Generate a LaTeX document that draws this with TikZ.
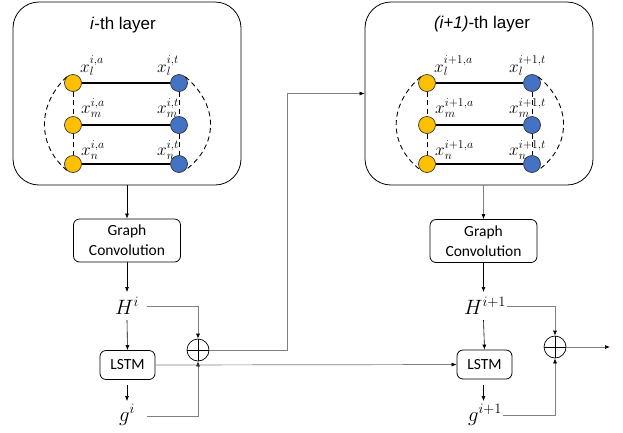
\documentclass[tikz,border=0pt]{standalone}
\usepackage{fontspec}
\newfontfamily\calib{Carlito}
\newfontfamily\arialf{Liberation Sans}
\usetikzlibrary{arrows.meta}
\definecolor{nyellow}{HTML}{FFC000}
\definecolor{nblue}{HTML}{4472C4}
\definecolor{lgray}{HTML}{808080}
\tikzset{
  layerbox/.style={draw, line width=0.8pt, rounded corners=26pt, minimum width=228pt, minimum height=183pt, inner sep=0pt},
  ynode/.style={circle, draw=black!80, line width=0.7pt, fill=nyellow, minimum size=17pt, inner sep=0pt},
  bnode/.style={circle, draw=black!80, line width=0.7pt, fill=nblue, minimum size=17pt, inner sep=0pt},
  lab/.style={anchor=base west, inner sep=0pt, font=\fontsize{18}{18}\selectfont},
  title/.style={font=\arialf\fontsize{17}{20}\selectfont},
  dline/.style={dashed, dash pattern=on 5pt off 3.5pt, line width=0.9pt},
  hline/.style={line width=1.1pt},
  opbox/.style={draw, line width=0.8pt, rounded corners=6pt, align=center, font=\calib\fontsize{15.5}{20}\selectfont, inner sep=0pt},
  mtxt/.style={font=\fontsize{20}{20}\selectfont, inner sep=1pt},
  oplus/.style={circle, draw, line width=0.7pt, minimum size=22pt, inner sep=0pt,
    path picture={\draw[line width=0.7pt] (path picture bounding box.north) -- (path picture bounding box.south)
      (path picture bounding box.west) -- (path picture bounding box.east);}},
  arr/.style={line width=0.6pt, -{Latex[length=5pt,width=4pt]}},
  garr/.style={draw=lgray, line width=0.7pt, -{Latex[length=5pt,width=4pt,color=black]}},
  gline/.style={draw=lgray, line width=0.7pt}
}
\begin{document}
\begin{tikzpicture}[x=1pt, y=-1pt]
\useasboundingbox (0,0) rectangle (623,432);

% ---------- left layer ----------
\node[layerbox] (Lbox) at (127,93.5) {};
\node[title] (Ltitle) at (123,25) {\textit{i}-th layer};
\node[ynode] (La1) at (73,83) {};
\node[ynode] (La2) at (73,125) {};
\node[ynode] (La3) at (73,164) {};
\node[bnode] (Lt1) at (179,83) {};
\node[bnode] (Lt2) at (179,125) {};
\node[bnode] (Lt3) at (179,164) {};
\node[lab] (Lla1) at (80,72) {$x_l^{i,a}$};
\node[lab] (Lla2) at (81,113) {$x_m^{i,a}$};
\node[lab] (Lla3) at (81,155) {$x_n^{i,a}$};
\node[lab] (Llt1) at (157,72) {$x_l^{i,t}$};
\node[lab] (Llt2) at (157,113) {$x_m^{i,t}$};
\node[lab] (Llt3) at (157,155) {$x_n^{i,t}$};
\draw[hline] (La1) -- (Lt1);
\draw[hline] (La2) -- (Lt2);
\draw[hline] (La3) -- (Lt3);
\draw[dline] (La1) -- (La2);
\draw[dline] (La2) -- (La3);
\draw[dline] (Lt1) -- (Lt2);
\draw[dline] (Lt2) -- (Lt3);
\draw[dline] (La1.north west) .. controls (37,105) and (37,145) .. (La3.south west);
\draw[dline] (Lt1.north east) .. controls (219,105) and (219,145) .. (Lt3.south east);

% ---------- right layer ----------
\node[layerbox] (Rbox) at (479,93.5) {};
\node[title] (Rtitle) at (482,24) {\textit{(i+1)}-th layer};
\node[ynode] (Ra1) at (427,83) {};
\node[ynode] (Ra2) at (427,125) {};
\node[ynode] (Ra3) at (427,164) {};
\node[bnode] (Rt1) at (532,83) {};
\node[bnode] (Rt2) at (532,125) {};
\node[bnode] (Rt3) at (532,164) {};
\node[lab] (Rla1) at (434,72) {$x_l^{i+1,a}$};
\node[lab] (Rla2) at (435,113) {$x_m^{i+1,a}$};
\node[lab] (Rla3) at (435,155) {$x_n^{i+1,a}$};
\node[lab] (Rlt1) at (509,72) {$x_l^{i+1,t}$};
\node[lab] (Rlt2) at (509,113) {$x_m^{i+1,t}$};
\node[lab] (Rlt3) at (509,155) {$x_n^{i+1,t}$};
\draw[hline] (Ra1) -- (Rt1);
\draw[hline] (Ra2) -- (Rt2);
\draw[hline] (Ra3) -- (Rt3);
\draw[dline] (Ra1) -- (Ra2);
\draw[dline] (Ra2) -- (Ra3);
\draw[dline] (Rt1) -- (Rt2);
\draw[dline] (Rt2) -- (Rt3);
\draw[dline] (Ra1.north west) .. controls (388,105) and (388,145) .. (Ra3.south west);
\draw[dline] (Rt1.north east) .. controls (572,105) and (572,145) .. (Rt3.south east);

% ---------- left pipeline ----------
\node[opbox, minimum width=107pt, minimum height=43pt] (Lgc) at (127,240.5) {Graph\\Convolution};
\node[mtxt] (LH) at (127,306) {$H^i$};
\node[opbox, minimum width=55pt, minimum height=29pt] (Llstm) at (127.5,365) {LSTM};
\node[mtxt] (Lg) at (127,415) {$g^i$};
\node[oplus] (Lop) at (198,350) {};
\draw[arr] (Lbox.south -| Lgc.north) -- (Lgc.north);
\draw[arr] (Lgc.south) -- (127,292);
\draw[arr] (127,320) -- (Llstm.north);
\draw[arr] (127,385) -- (127,401);
\draw[garr] (147,306) -| (Lop.north);
\draw[garr] (147,416) -| (Lop.south);
\draw[gline, -{Latex[length=5pt,width=4pt,color=black]}] (Lop.east) -- (287,350) |- (Rbox.west);

% ---------- right pipeline ----------
\node[opbox, minimum width=107pt, minimum height=43pt] (Rgc) at (483.5,241) {Graph\\Convolution};
\node[mtxt] (RH) at (485,306) {$H^{i+1}$};
\node[opbox, minimum width=55pt, minimum height=29pt] (Rlstm) at (484.5,364.5) {LSTM};
\node[mtxt] (Rg) at (485,415) {$g^{i+1}$};
\node[oplus] (Rop) at (555,347) {};
\coordinate (Rout) at (610,347);
\draw[garr] (Rbox.south -| Rgc.north) -- (Rgc.north);
\draw[arr] (Rgc.south) -- (483.5,292);
\draw[arr] (483.5,320) -- (Rlstm.north);
\draw[arr] (483.5,385) -- (483.5,401);
\draw[garr] (RH.east) -| (Rop.north);
\draw[garr] (Rg.east) -| (Rop.south);
\draw[garr] (Rop.east) -- (Rout);
\draw[garr] (Llstm.east) -- (Rlstm.west);
\end{tikzpicture}
\end{document}
